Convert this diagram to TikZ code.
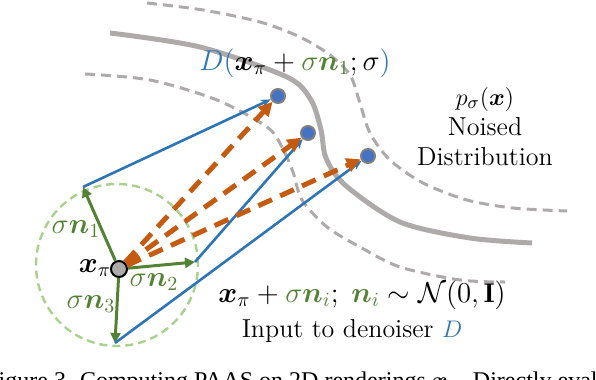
\documentclass[tikz,border=0pt]{standalone}
\usepackage{amsmath}
\usepackage{fontspec}
\newfontfamily\capfont{Liberation Serif}
\usetikzlibrary{arrows.meta}

\definecolor{noiseblue}{HTML}{2E75B6}
\definecolor{dotblue}{HTML}{4472C4}
\definecolor{noisegreen}{HTML}{548235}
\definecolor{ballgreen}{HTML}{A9D18E}
\definecolor{denoiseorange}{HTML}{C55A11}
\definecolor{distgray}{HTML}{AEAAAA}

\begin{document}
\begin{tikzpicture}[x=0.5pt,y=-0.5pt,font=\fontsize{13}{15}\selectfont,
   sample/.style={circle,fill=dotblue,draw=gray,line width=1pt,minimum size=7pt,inner sep=0pt},
   noisearrow/.style={noisegreen,line width=1.5pt,-{Triangle[length=5pt,width=5pt]}},
   inputarrow/.style={noiseblue,line width=1.3pt,-{Stealth[length=5pt,width=4pt]}},
   denoisearrow/.style={denoiseorange,line width=2.5pt,dash pattern=on 7.5pt off 4.5pt,-{Triangle[length=7pt,width=7pt]}},
   level/.style={distgray,line width=1.5pt,dash pattern=on 5pt off 3pt},
   mathlab/.style={font=\fontsize{13.6}{16}\selectfont}]
   \useasboundingbox (0,0) rectangle (596,380);

   % noised distribution
   \draw[level] plot[smooth] coordinates {(147,3) (203,10) (260,22) (300,37) (330,55) (350,75) (359,100) (370,133) (390,160) (423,183) (467,200) (513,208) (567,211)};
   \draw[distgray,line width=2.5pt] plot[smooth] coordinates {(110,33) (200,47) (287,77) (311,100) (321,130) (326,158) (345,185) (400,222) (470,238) (532,243)};
   \draw[level] plot[smooth] coordinates {(85,74) (150,80) (217,100) (267,127) (282,147) (293,172) (302,200) (327,227) (360,247) (400,267) (460,280) (505,282)};

   % noise ball
   \draw[ballgreen,line width=1.2pt,dash pattern=on 4pt off 2.5pt] (117,265) circle (40.5pt);

   \node[circle,fill=distgray,draw=black,line width=1pt,minimum size=8pt,inner sep=0pt] (xpi) at (119,269) {};
   \node[mathlab] (xpilab) at (95,268) {$\boldsymbol{x}_\pi$};
   \coordinate (n1) at (83,187);
   \coordinate (n2) at (195,262);
   \coordinate (n3) at (115,343);
   \node[sample] (d1) at (278,96) {};
   \node[sample] (d2) at (308,133) {};
   \node[sample] (d3) at (368,156) {};

   \draw[noisearrow] (xpi) -- (n1);
   \draw[noisearrow] (xpi) -- (n2);
   \draw[noisearrow] (xpi) -- (n3);
   \node[noisegreen,mathlab] (lab1) at (76,229) {$\sigma\boldsymbol{n}_1$};
   \node[noisegreen,mathlab] (lab2) at (154,282) {$\sigma\boldsymbol{n}_2$};
   \node[noisegreen,mathlab] (lab3) at (91,304) {$\sigma\boldsymbol{n}_3$};

   \draw[inputarrow] (n1) -- (d1);
   \draw[inputarrow] (n2) -- (d2);
   \draw[inputarrow] (n3) -- (d3);

   \draw[denoisearrow] (xpi) -- (d1);
   \draw[denoisearrow] (xpi) -- (d2);
   \draw[denoisearrow] (xpi) -- (d3);

   % labels
   \node[anchor=base,mathlab] (out) at (295,70) {\color{noiseblue}$D($\color{black}$\boldsymbol{x}_\pi+{}$\color{noisegreen}$\sigma\boldsymbol{n}_1$\color{black}$;\sigma$\color{noiseblue}$)$};
   \node[align=center,anchor=base] (dist) at (485,165) {$p_\sigma(\boldsymbol{x})$\\Noised\\Distribution};
   \node[anchor=base,mathlab] (inp) at (362,302) {$\boldsymbol{x}_\pi+{}$\color{noisegreen}$\sigma\boldsymbol{n}_i$\color{black}$;\;\,$\color{noisegreen}$\boldsymbol{n}_i$\color{black}${}\sim\mathcal{N}(0,\mathbf{I})$};
   \node[anchor=base] (inplab) at (352,337) {Input to denoiser \color{noiseblue}$D$};
   \node[anchor=base west,inner sep=0pt,font=\capfont\fontsize{12}{14}\selectfont] (cap) at (-15,388) {Figure 3. Computing PAAS on 2D renderings $\boldsymbol{x}_\pi$. Directly evaluating};
\end{tikzpicture}
\end{document}
